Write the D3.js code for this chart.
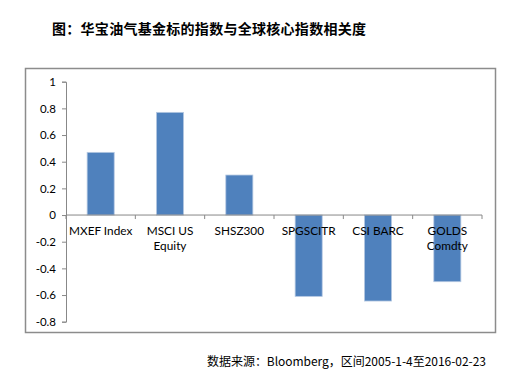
<!DOCTYPE html>
<html><head><meta charset="utf-8">
<script src="https://cdn.jsdelivr.net/npm/d3@7"></script>
<style>
body{margin:0;background:#fff;}
svg{display:block;}
</style></head>
<body>
<svg id="c" width="516" height="377"></svg>
<script>
const categories = ["MXEF Index", "MSCI US|Equity", "SHSZ300", "SPGSCITR", "CSI BARC", "GOLDS|Comdty"];
const values = [0.47, 0.77, 0.30, -0.61, -0.645, -0.50];
const yTicks = [-0.8, -0.6, -0.4, -0.2, 0, 0.2, 0.4, 0.6, 0.8, 1];
const yTickLabels = ["-0.8", "-0.6", "-0.4", "-0.2", "0", "0.2", "0.4", "0.6", "0.8", "1"];
const title = "图：华宝油气基金标的指数与全球核心指数相关度";
const source = "数据来源：Bloomberg，区间2005-1-4至2016-02-23";

const svg = d3.select("#c");
const latin = "Lato, 'Open Sans', sans-serif";
const cjk = "'Noto Sans CJK SC', sans-serif";

// title
svg.append("text").attr("x", 52).attr("y", 34)
  .attr("font-family", cjk).attr("font-weight", "bold").attr("font-size", 14)
  .attr("textLength", 314).attr("fill", "#000").text(title);

// frame
svg.append("rect").attr("x", 25.5).attr("y", 68.5).attr("width", 470).attr("height", 264)
  .attr("fill", "#fff").attr("stroke", "#8c8c8c").attr("stroke-width", 1.5);

const x = d3.scaleBand().domain(categories).range([66, 482]).paddingInner(0.61).paddingOuter(0.305);
const y = d3.scaleLinear().domain([-0.8, 1]).range([321.7, 81.7]);

// bars
svg.append("g").selectAll("rect").data(values).join("rect")
  .attr("x", (d, i) => x(categories[i]))
  .attr("width", x.bandwidth())
  .attr("y", d => y(Math.max(0, d)))
  .attr("height", d => Math.abs(y(d) - y(0)))
  .attr("fill", "#4f81bd").attr("stroke", "#b4c8e2").attr("stroke-width", 0.8);

// y axis
const yAxis = d3.axisLeft(y).tickValues(yTicks).tickSize(4).tickPadding(6)
  .tickFormat((d, i) => yTickLabels[i]);
const gy = svg.append("g").attr("transform", "translate(66,0)").call(yAxis);
gy.select(".domain").attr("stroke", "#888");
gy.selectAll(".tick line").attr("stroke", "#888");
gy.selectAll(".tick text").attr("font-family", latin).attr("font-size", 11.5).attr("fill", "#000");

// x axis at zero
const gx = svg.append("g").attr("transform", `translate(0,${y(0)})`);
gx.append("line").attr("x1", 66).attr("x2", 482).attr("y1", 0).attr("y2", 0).attr("stroke", "#888");
const bounds = categories.map(c => x(c) - x.step() * x.paddingInner() / 2).concat([482]);
gx.selectAll("line.tk").data(bounds).join("line").attr("class", "tk")
  .attr("x1", d => d).attr("x2", d => d).attr("y1", 0).attr("y2", 4).attr("stroke", "#888");

// category labels
const lab = svg.append("g").selectAll("text").data(categories).join("text")
  .attr("text-anchor", "middle").attr("font-family", latin).attr("font-size", 11.8).attr("fill", "#000")
  .attr("x", c => x(c) + x.bandwidth() / 2).attr("y", y(0) + 20);
lab.each(function(c) {
  const parts = c.split("|");
  const t = d3.select(this);
  parts.forEach((p, i) => {
    t.append("tspan").attr("x", x(c) + x.bandwidth() / 2).attr("dy", i === 0 ? 0 : 15).text(p);
  });
});

// source
svg.append("text").attr("x", 486).attr("y", 366).attr("text-anchor", "end")
  .attr("font-family", cjk).attr("font-size", 12).attr("textLength", 279).attr("fill", "#000").text(source);
</script>
</body></html>
